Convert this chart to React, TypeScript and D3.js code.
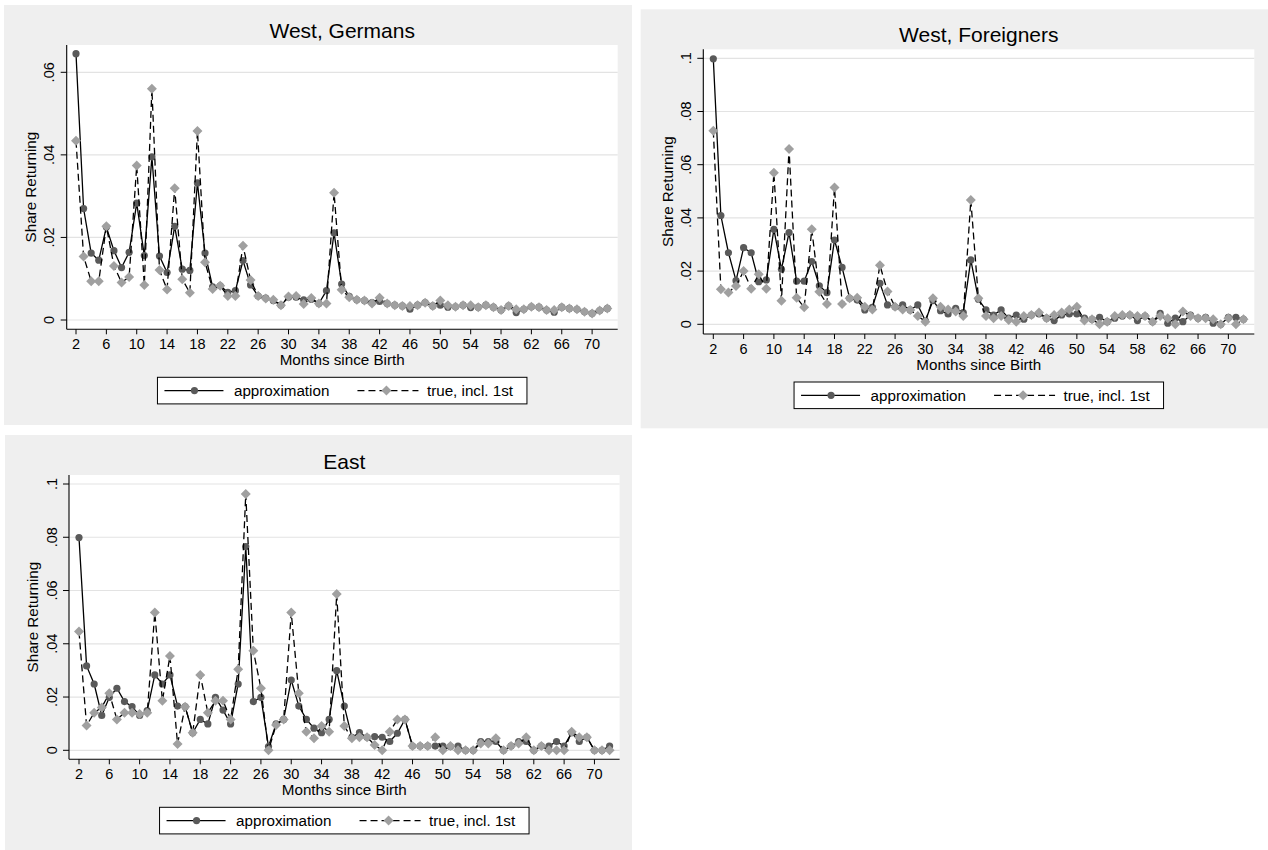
import React from "react";
import * as d3 from "d3";

// ---------- data ----------
const months = [
  2, 3, 4, 5, 6, 7, 8, 9, 10, 11,
  12, 13, 14, 15, 16, 17, 18, 19, 20, 21,
  22, 23, 24, 25, 26, 27, 28, 29, 30, 31,
  32, 33, 34, 35, 36, 37, 38, 39, 40, 41,
  42, 43, 44, 45, 46, 47, 48, 49, 50, 51,
  52, 53, 54, 55, 56, 57, 58, 59, 60, 61,
  62, 63, 64, 65, 66, 67, 68, 69, 70, 71,
  72,
];
const xTicks = [2, 6, 10, 14, 18, 22, 26, 30, 34, 38, 42, 46, 50, 54, 58, 62, 66, 70];
const yTicksShort = [0, 0.02, 0.04, 0.06];
const yLabelsShort = ["0", ".02", ".04", ".06"];
const yTicksLong = [0, 0.02, 0.04, 0.06, 0.08, 0.1];
const yLabelsLong = ["0", ".02", ".04", ".06", ".08", ".1"];
const seriesNames = ["approximation", "true, incl. 1st"];
const panelTitles = ["West, Germans", "West, Foreigners", "East"];
const xAxisTitle = "Months since Birth";
const yAxisTitle = "Share Returning";

const westGermansApprox = [
  0.0645, 0.0270, 0.0162, 0.0145, 0.0225, 0.0168, 0.0127, 0.0164, 0.0283, 0.0156,
  0.0395, 0.0155, 0.0115, 0.0227, 0.0123, 0.0120, 0.0332, 0.0162, 0.0080, 0.0083,
  0.0067, 0.0071, 0.0144, 0.0085, 0.0058, 0.0053, 0.0047, 0.0036, 0.0055, 0.0055,
  0.0049, 0.0050, 0.0040, 0.0071, 0.0211, 0.0087, 0.0057, 0.0049, 0.0047, 0.0042,
  0.0045, 0.0040, 0.0036, 0.0034, 0.0026, 0.0036, 0.0042, 0.0034, 0.0036, 0.0031,
  0.0032, 0.0036, 0.0030, 0.0031, 0.0036, 0.0031, 0.0024, 0.0034, 0.0018, 0.0026,
  0.0032, 0.0031, 0.0024, 0.0019, 0.0031, 0.0028, 0.0026, 0.0020, 0.0016, 0.0023,
  0.0028,
];
const westGermansTrue = [
  0.0434, 0.0154, 0.0094, 0.0094, 0.0227, 0.0131, 0.0091, 0.0104, 0.0374, 0.0085,
  0.0560, 0.0121, 0.0074, 0.0319, 0.0099, 0.0066, 0.0458, 0.0140, 0.0075, 0.0083,
  0.0058, 0.0058, 0.0180, 0.0097, 0.0058, 0.0052, 0.0049, 0.0036, 0.0057, 0.0058,
  0.0039, 0.0053, 0.0040, 0.0040, 0.0308, 0.0073, 0.0055, 0.0049, 0.0047, 0.0040,
  0.0054, 0.0040, 0.0036, 0.0034, 0.0034, 0.0036, 0.0042, 0.0034, 0.0047, 0.0036,
  0.0032, 0.0036, 0.0036, 0.0031, 0.0036, 0.0031, 0.0024, 0.0034, 0.0026, 0.0026,
  0.0032, 0.0031, 0.0024, 0.0024, 0.0031, 0.0028, 0.0026, 0.0020, 0.0016, 0.0023,
  0.0028,
];
const westForeignersApprox = [
  0.0998, 0.0409, 0.0269, 0.0164, 0.0288, 0.0269, 0.0160, 0.0167, 0.0357, 0.0207,
  0.0345, 0.0162, 0.0162, 0.0236, 0.0145, 0.0119, 0.0317, 0.0214, 0.0098, 0.0091,
  0.0054, 0.0064, 0.0154, 0.0073, 0.0066, 0.0073, 0.0054, 0.0073, 0.0013, 0.0089,
  0.0051, 0.0039, 0.0060, 0.0044, 0.0242, 0.0094, 0.0054, 0.0035, 0.0054, 0.0023,
  0.0035, 0.0019, 0.0035, 0.0039, 0.0023, 0.0014, 0.0035, 0.0039, 0.0039, 0.0023,
  0.0019, 0.0026, 0.0010, 0.0023, 0.0031, 0.0035, 0.0014, 0.0031, 0.0010, 0.0041,
  0.0004, 0.0023, 0.0010, 0.0035, 0.0023, 0.0026, 0.0004, 0.0000, 0.0026, 0.0026,
  0.0019,
];
const westForeignersTrue = [
  0.0728, 0.0132, 0.0120, 0.0144, 0.0200, 0.0134, 0.0188, 0.0134, 0.0570, 0.0089,
  0.0659, 0.0100, 0.0064, 0.0357, 0.0122, 0.0076, 0.0514, 0.0076, 0.0098, 0.0100,
  0.0066, 0.0056, 0.0222, 0.0123, 0.0066, 0.0056, 0.0054, 0.0031, 0.0010, 0.0098,
  0.0066, 0.0056, 0.0048, 0.0031, 0.0467, 0.0098, 0.0031, 0.0023, 0.0031, 0.0016,
  0.0010, 0.0031, 0.0035, 0.0044, 0.0023, 0.0035, 0.0044, 0.0056, 0.0066, 0.0014,
  0.0019, 0.0000, 0.0010, 0.0031, 0.0035, 0.0035, 0.0031, 0.0031, 0.0010, 0.0031,
  0.0023, 0.0000, 0.0048, 0.0031, 0.0023, 0.0023, 0.0019, 0.0000, 0.0023, 0.0000,
  0.0019,
];
const eastApprox = [
  0.0799, 0.0317, 0.0249, 0.0131, 0.0199, 0.0233, 0.0183, 0.0164, 0.0131, 0.0149,
  0.0283, 0.0249, 0.0283, 0.0166, 0.0164, 0.0066, 0.0116, 0.0099, 0.0199, 0.0151,
  0.0099, 0.0249, 0.0765, 0.0183, 0.0199, 0.0014, 0.0099, 0.0116, 0.0264, 0.0166,
  0.0116, 0.0083, 0.0066, 0.0116, 0.0299, 0.0166, 0.0049, 0.0066, 0.0049, 0.0051,
  0.0049, 0.0033, 0.0064, 0.0116, 0.0016, 0.0016, 0.0016, 0.0016, 0.0016, 0.0014,
  0.0016, 0.0000, 0.0000, 0.0033, 0.0033, 0.0033, 0.0000, 0.0016, 0.0033, 0.0033,
  0.0000, 0.0016, 0.0016, 0.0033, 0.0016, 0.0066, 0.0033, 0.0049, 0.0000, 0.0000,
  0.0016,
];
const eastTrue = [
  0.0446, 0.0093, 0.0141, 0.0161, 0.0214, 0.0116, 0.0141, 0.0141, 0.0136, 0.0141,
  0.0517, 0.0186, 0.0354, 0.0024, 0.0164, 0.0066, 0.0283, 0.0141, 0.0186, 0.0186,
  0.0116, 0.0304, 0.0962, 0.0374, 0.0233, 0.0000, 0.0095, 0.0116, 0.0517, 0.0214,
  0.0070, 0.0045, 0.0091, 0.0070, 0.0587, 0.0091, 0.0045, 0.0049, 0.0049, 0.0020,
  0.0000, 0.0070, 0.0116, 0.0116, 0.0016, 0.0016, 0.0016, 0.0049, 0.0000, 0.0016,
  0.0000, 0.0000, 0.0000, 0.0026, 0.0026, 0.0045, 0.0000, 0.0016, 0.0026, 0.0049,
  0.0000, 0.0016, 0.0000, 0.0000, 0.0000, 0.0070, 0.0049, 0.0049, 0.0000, 0.0000,
  0.0000,
];

// ---------- styling ----------
const FONT = '"Liberation Sans", Arial, Helvetica, sans-serif';
const BG = "#efefef";
const GRID = "#e3e3e3";
const APPROX_FILL = "#5a5a5a";
const TRUE_FILL = "#a0a0a0";
const TICK_FS = 14.5;
const LABEL_FS = 15.2;
const TITLE_FS = 21;

type Layout = {
  bg: [number, number, number, number];
  plotL: number;
  plotR: number;
  plotT: number;
  plotB: number;
  x0: number;
  x1: number;
  yZeroPx: number;
  yTopPx: number;
  yTop: number;
  titleY: number;
};

const diamondPath = (() => {
  const h = 5;
  return `M0,${-h}L${h},0L0,${h}L${-h},0Z`;
})();

function Panel(props: {
  title: string;
  approx: number[];
  truth: number[];
  yTicks: number[];
  yLabels: string[];
  layout: Layout;
}) {
  const { title, approx, truth, yTicks, yLabels, layout: L } = props;
  const x = d3
    .scaleLinear()
    .domain([months[0], months[months.length - 1]])
    .range([L.x0, L.x1]);
  const y = d3.scaleLinear().domain([0, L.yTop]).range([L.yZeroPx, L.yTopPx]);
  const line = d3
    .line<number>()
    .x((_, i) => x(months[i]))
    .y((d) => y(d));
  const cx = (L.plotL + L.plotR) / 2;
  const cy = (L.plotT + L.plotB) / 2;
  const legW = 369.5;
  const legH = 26.6;
  const legX = cx - legW / 2;
  const legY = L.plotB + 48;
  const legMid = legY + legH / 2;

  return (
    <g fontFamily={FONT}>
      <rect x={L.bg[0]} y={L.bg[1]} width={L.bg[2]} height={L.bg[3]} fill={BG} />
      <rect
        x={L.plotL}
        y={L.plotT}
        width={L.plotR - L.plotL}
        height={L.plotB - L.plotT}
        fill="#ffffff"
      />
      {yTicks.map((t) => (
        <line
          key={"g" + t}
          x1={L.plotL}
          x2={L.plotR}
          y1={y(t)}
          y2={y(t)}
          stroke={GRID}
          strokeWidth={1.2}
        />
      ))}
      {/* axes */}
      <line x1={L.plotL} x2={L.plotL} y1={L.plotT} y2={L.plotB} stroke="#000" strokeWidth={1.1} />
      <line x1={L.plotL} x2={L.plotR} y1={L.plotB} y2={L.plotB} stroke="#000" strokeWidth={1.1} />
      {yTicks.map((t, i) => (
        <g key={"yt" + t}>
          <line x1={L.plotL - 6} x2={L.plotL} y1={y(t)} y2={y(t)} stroke="#000" strokeWidth={1} />
          <text
            transform={`translate(${L.plotL - 17.5},${y(t)}) rotate(-90)`}
            textAnchor="middle"
            dy="0.36em"
            fontSize={TICK_FS}
            fill="#000"
          >
            {yLabels[i]}
          </text>
        </g>
      ))}
      {xTicks.map((t) => (
        <g key={"xt" + t}>
          <line x1={x(t)} x2={x(t)} y1={L.plotB} y2={L.plotB + 5} stroke="#000" strokeWidth={1} />
          <text x={x(t)} y={L.plotB + 19.5} textAnchor="middle" fontSize={TICK_FS} fill="#000">
            {t}
          </text>
        </g>
      ))}
      <text
        transform={`translate(${L.plotL - 36},${cy}) rotate(-90)`}
        textAnchor="middle"
        dy="0.36em"
        fontSize={LABEL_FS}
        fill="#000"
      >
        {yAxisTitle}
      </text>
      <text x={cx} y={L.plotB + 36} textAnchor="middle" fontSize={LABEL_FS} fill="#000">
        {xAxisTitle}
      </text>
      <text x={cx} y={L.titleY} textAnchor="middle" dy="0.36em" fontSize={TITLE_FS} fill="#000">
        {title}
      </text>

      {/* series 1: approximation */}
      <path d={line(approx) || ""} fill="none" stroke="#000" strokeWidth={1.3} />
      {approx.map((v, i) => (
        <circle key={"a" + i} cx={x(months[i])} cy={y(v)} r={3.6} fill={APPROX_FILL} />
      ))}
      {/* series 2: true, incl. 1st */}
      <path
        d={line(truth) || ""}
        fill="none"
        stroke="#000"
        strokeWidth={1.3}
        strokeDasharray="7,4"
      />
      {truth.map((v, i) => (
        <path
          key={"t" + i}
          d={diamondPath}
          transform={`translate(${x(months[i])},${y(v)})`}
          fill={TRUE_FILL}
        />
      ))}

      {/* legend */}
      <rect x={legX} y={legY} width={legW} height={legH} fill="#ffffff" stroke="#000" strokeWidth={1} />
      <line x1={legX + 7} x2={legX + 66} y1={legMid} y2={legMid} stroke="#000" strokeWidth={1.3} />
      <circle cx={legX + 37} cy={legMid} r={3.6} fill={APPROX_FILL} />
      <text x={legX + 76.5} y={legMid} dy="0.36em" fontSize={LABEL_FS} fill="#000">
        {seriesNames[0]}
      </text>
      <line
        x1={legX + 200}
        x2={legX + 261}
        y1={legMid}
        y2={legMid}
        stroke="#000"
        strokeWidth={1.3}
        strokeDasharray="7,4"
      />
      <path d={diamondPath} transform={`translate(${legX + 229},${legMid})`} fill={TRUE_FILL} />
      <text x={legX + 269.5} y={legMid} dy="0.36em" fontSize={LABEL_FS} fill="#000">
        {seriesNames[1]}
      </text>
    </g>
  );
}

const layoutWG: Layout = {
  bg: [4, 5, 628, 420],
  plotL: 66.7,
  plotR: 617.7,
  plotT: 45,
  plotB: 329.3,
  x0: 76,
  x1: 607.3,
  yZeroPx: 320,
  yTopPx: 72.3,
  yTop: 0.06,
  titleY: 30,
};
const layoutWF: Layout = {
  bg: [640.7, 9.3, 627.3, 419],
  plotL: 703.3,
  plotR: 1254.3,
  plotT: 49.3,
  plotB: 334,
  x0: 713.3,
  x1: 1243.5,
  yZeroPx: 324.3,
  yTopPx: 58.3,
  yTop: 0.1,
  titleY: 34.5,
};
const layoutE: Layout = {
  bg: [5, 435, 627, 415],
  plotL: 69,
  plotR: 619.6,
  plotT: 475,
  plotB: 759.3,
  x0: 79,
  x1: 609.6,
  yZeroPx: 750.3,
  yTopPx: 484,
  yTop: 0.1,
  titleY: 461,
};

export default function App() {
  return (
    <svg
      width={1268}
      height={850}
      style={{ position: "absolute", left: 0, top: 0, display: "block", background: "#fff" }}
    >
      <Panel
        title={panelTitles[0]}
        approx={westGermansApprox}
        truth={westGermansTrue}
        yTicks={yTicksShort}
        yLabels={yLabelsShort}
        layout={layoutWG}
      />
      <Panel
        title={panelTitles[1]}
        approx={westForeignersApprox}
        truth={westForeignersTrue}
        yTicks={yTicksLong}
        yLabels={yLabelsLong}
        layout={layoutWF}
      />
      <Panel
        title={panelTitles[2]}
        approx={eastApprox}
        truth={eastTrue}
        yTicks={yTicksLong}
        yLabels={yLabelsLong}
        layout={layoutE}
      />
    </svg>
  );
}
